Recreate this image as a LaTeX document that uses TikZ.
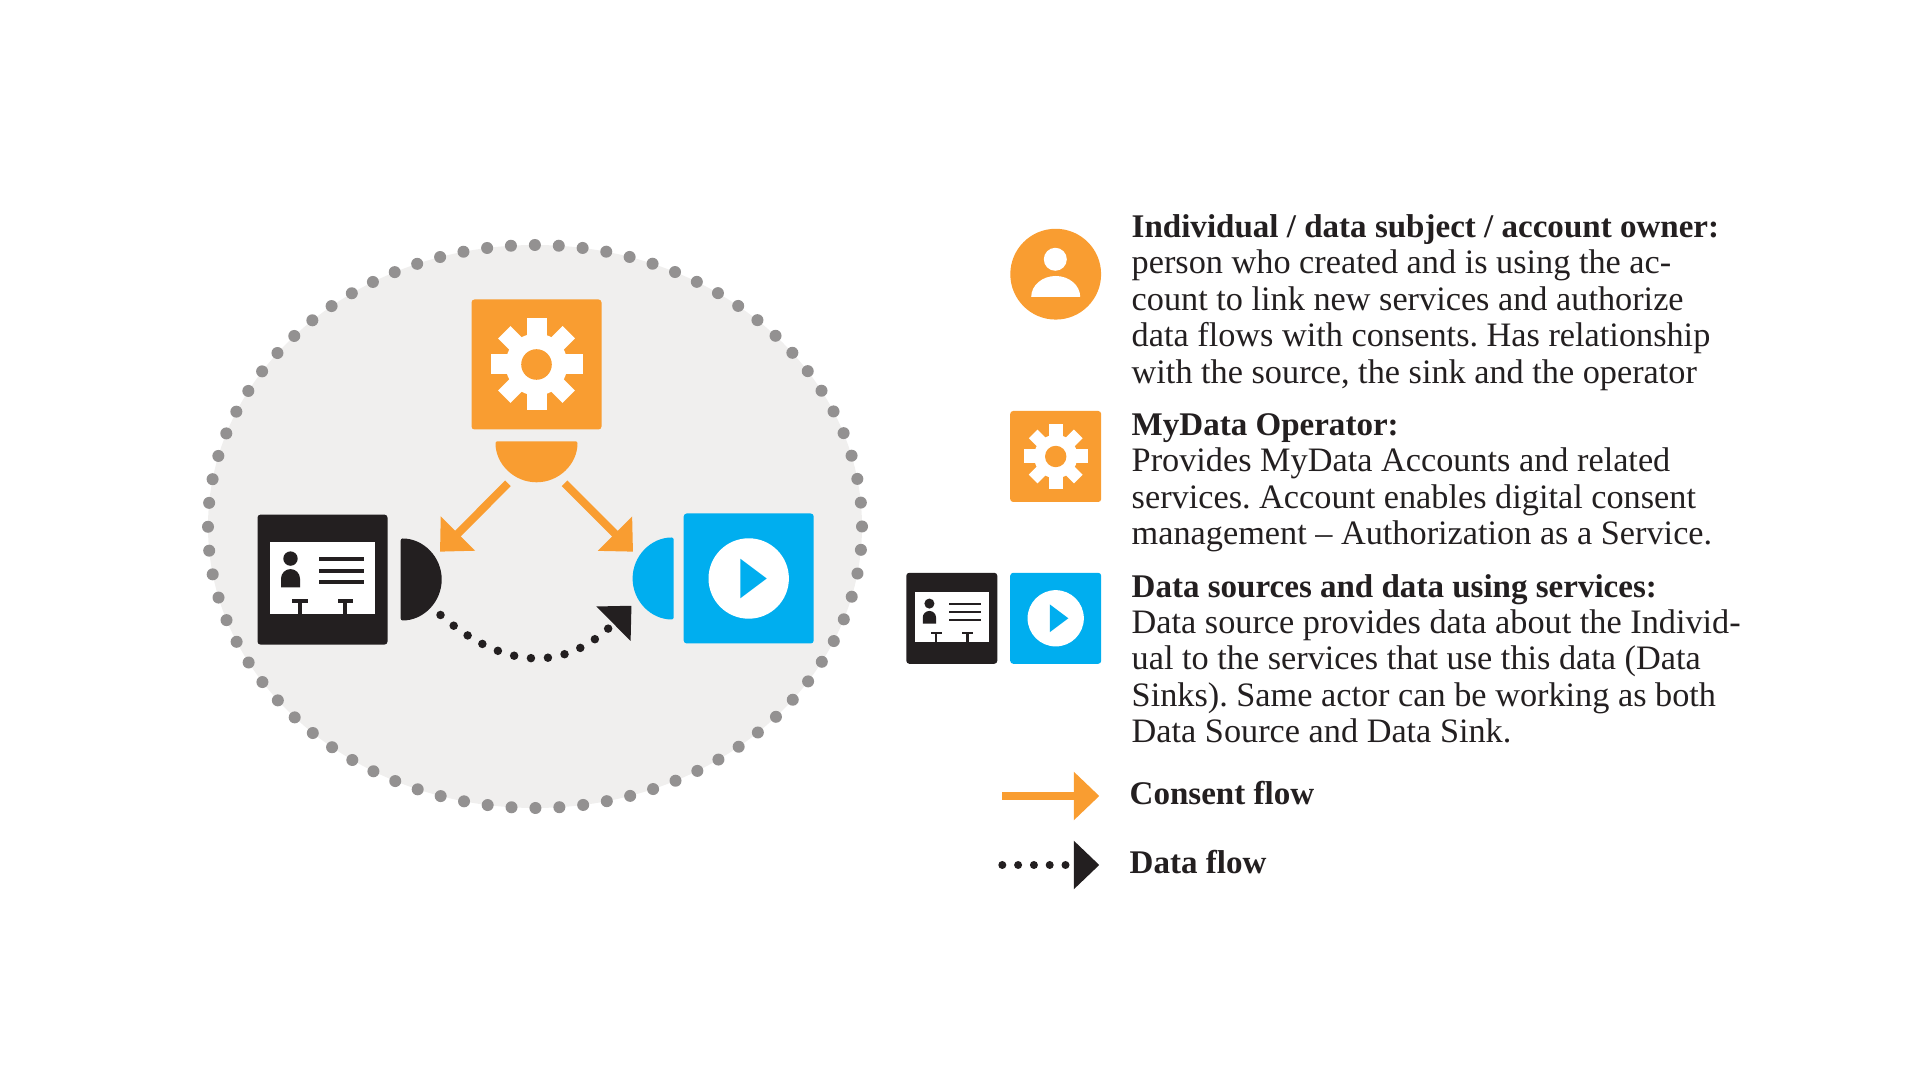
\documentclass[tikz,border=0pt]{standalone}
\usepackage{fontspec}
\setmainfont{Liberation Serif}
\usetikzlibrary{arrows.meta}

\definecolor{opcolor}{HTML}{F99D31}
\definecolor{srccolor}{HTML}{231F20}
\definecolor{sinkcolor}{HTML}{00AEEF}
\definecolor{ringcolor}{HTML}{939191}
\definecolor{diskcolor}{HTML}{F0EFEE}

\newcommand{\headline}[1]{{\fontsize{9.4pt}{10.35pt}\selectfont\bfseries #1}}

\tikzset{
    iconbox/.style={inner sep=0pt, rounded corners=0.03cm, minimum size=1.3cm},
    smallbox/.style={inner sep=0pt, rounded corners=0.03cm, minimum size=0.91cm},
    consent/.style={opcolor, line width=0.08cm, -{Triangle[length=0.255cm, width=0.47cm]}},
    dataflow/.style={srccolor, line width=0.085cm, line cap=round, dash pattern=on 0pt off 0.17cm, -{Triangle[length=0.255cm, width=0.47cm]}},
    legendtext/.style={anchor=north west, inner sep=0pt, align=left, text=srccolor, font=\fontsize{9.75pt}{10.35pt}\selectfont\frenchspacing},
    flowlabel/.style={anchor=base west, inner sep=0pt, text=srccolor},
    pics/gearmark/.style={code={
        \foreach \a in {0,90,180,270}
            \fill[white, rotate=\a] (0.26,-0.1) rectangle (0.46,0.1);
        \foreach \a in {45,135,225,315}
            \fill[white, rotate=\a] (0.26,-0.088) rectangle (0.456,0.088);
        \fill[white] (0,0) circle (0.31);
        \fill[opcolor] (0,0) circle (0.153);
    }},
    pics/cardmark/.style={code={
        \fill[white] (-0.526,-0.34) rectangle (0.526,0.373);
        \fill[srccolor] (-0.32,0.21) circle (0.072);
        \fill[srccolor] (-0.415,-0.077) -- (-0.415,0.01) arc (180:0:0.095) -- (-0.225,-0.077) -- cycle;
        \foreach \y in {0.203,0.089,-0.024}
            \fill[srccolor] (-0.037,\y-0.02) rectangle (0.415,\y+0.02);
        \foreach \x in {-0.224,0.227} {
            \fill[srccolor] (\x-0.077,-0.23) rectangle (\x+0.077,-0.194);
            \fill[srccolor] (\x-0.018,-0.34) rectangle (\x+0.018,-0.23);
        }
    }},
    pics/playmark/.style={code={
        \fill[white] (0,0) circle (0.402);
        \fill[sinkcolor] (-0.084,-0.198) -- (-0.084,0.198) -- (0.18,0) -- cycle;
    }},
}

\begin{document}
\begin{tikzpicture}
    \useasboundingbox (0,0) rectangle (19.2,10.8);

    % the ring
    \fill[diskcolor] (5.35,5.535) ellipse (3.27 and 2.815);
    \draw[ringcolor, line width=0.12cm, line cap=round, dash pattern=on 0pt off 0.2394cm] (5.35,5.535) ellipse (3.27 and 2.815);

    % actors
    \node[iconbox, fill=opcolor] (opbox) at (5.365,7.155) {};
    \node[iconbox, fill=srccolor] (srcbox) at (3.225,5.004) {};
    \node[iconbox, fill=sinkcolor] (sinkbox) at (7.487,5.015) {};
    \pic at (opbox) {gearmark};
    \pic at (srcbox) {cardmark};
    \pic at (sinkbox) {playmark};

    \fill[opcolor, rounded corners=0.02cm] (4.955,6.387) arc (180:360:0.41) -- cycle;
    \fill[srccolor, rounded corners=0.02cm] (4.007,5.415) arc (90:-90:0.41) -- cycle;
    \fill[sinkcolor, rounded corners=0.02cm] (6.736,5.425) arc (90:270:0.41) -- cycle;

    % flows between the actors
    \coordinate (opleft) at (5.079,5.967);
    \coordinate (opright) at (5.645,5.967);
    \coordinate (srcin) at (4.40,5.283);
    \coordinate (sinkin) at (6.33,5.283);
    \coordinate (srcout) at (4.405,4.65);
    \coordinate (sinkdata) at (6.315,4.743);
    \draw[consent] (opleft) -- (srcin);
    \draw[consent] (opright) -- (sinkin);
    \draw[dataflow] (srcout) .. controls (4.957,4.172) and (5.58,4.01) .. (sinkdata);

    % legend icons
    \fill[opcolor] (10.557,8.058) circle (0.454);
    \fill[white] (10.553,8.207) circle (0.115);
    \fill[white] (10.312,7.83) arc (180:0:0.245 and 0.21) -- cycle;

    \node[smallbox, fill=opcolor] (opsmall) at (10.557,6.235) {};
    \node[smallbox, fill=srccolor] (srcsmall) at (9.518,4.617) {};
    \node[smallbox, fill=sinkcolor] (sinksmall) at (10.557,4.617) {};
    \pic[scale=0.7] at (opsmall) {gearmark};
    \pic[scale=0.7] at (srcsmall) {cardmark};
    \pic[scale=0.7] at (sinksmall) {playmark};

    \coordinate (consentfrom) at (10.023,2.84);
    \coordinate (consentto) at (10.993,2.84);
    \coordinate (datafrom) at (10.023,2.15);
    \coordinate (datato) at (10.993,2.15);
    \draw[consent] (consentfrom) -- (consentto);
    \draw[dataflow, dash pattern=on 0pt off 0.158cm, line width=0.08cm] (datafrom) -- (datato);

    % legend texts
    \node[legendtext] (persontext) at (11.31,8.66) {\headline{Individual / data subject / account owner:}\\
        person who created and is using the ac-\\
        count to link new services and authorize\\
        data flows with consents. Has relationship\\
        with the source, the sink and the operator};
    \node[legendtext] (optext) at (11.31,6.67) {\headline{MyData Operator:}\\
        Provides MyData Accounts and related\\
        services. Account enables digital consent\\
        management -- Authorization as a Service.};
    \node[legendtext] (srctext) at (11.31,5.065) {\headline{Data sources and data using services:}\\
        Data source provides data about the Individ-\\
        ual to the services that use this data (Data\\
        Sinks). Same actor can be working as both\\
        Data Source and Data Sink.};
    \node[flowlabel] (consentlabel) at (11.29,2.755) {\headline{Consent flow}};
    \node[flowlabel] (datalabel) at (11.29,2.065) {\headline{Data flow}};
\end{tikzpicture}
\end{document}
